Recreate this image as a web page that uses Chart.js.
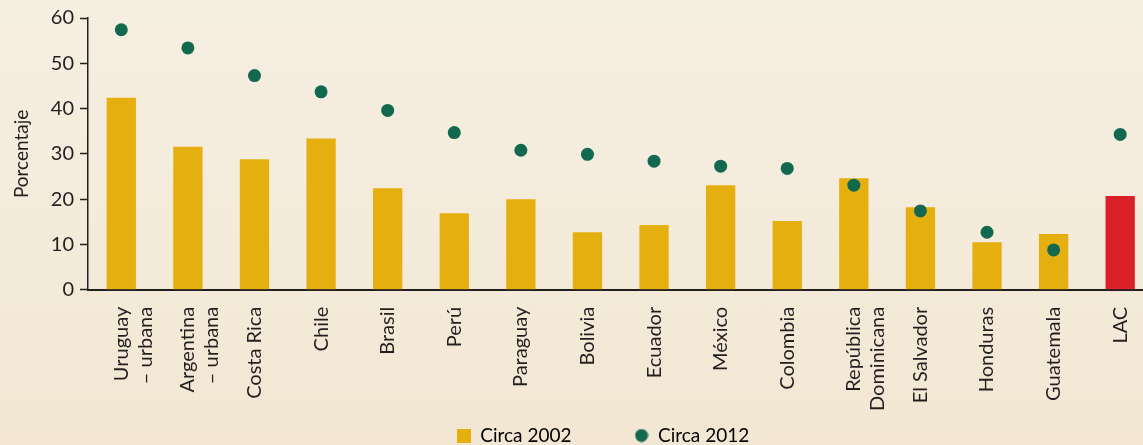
<!DOCTYPE html>
<html>
<head>
<meta charset="utf-8">
<script src="https://cdn.jsdelivr.net/npm/chart.js@4"></script>
<style>
  html, body { margin: 0; padding: 0; overflow: hidden; }
  body { background: linear-gradient(#f5efe2, #f3e7d3); width: 1143px; height: 445px; }
  #divchart { width: 1160px; height: 445px; }
</style>
</head>
<body>
<div id="divchart"><canvas id="chart"></canvas></div>
<script>
const categories = [
    ['Uruguay', '– urbana'], ['Argentina', '– urbana'], 'Costa Rica', 'Chile', 'Brasil', 'Perú',
    'Paraguay', 'Bolivia', 'Ecuador', 'México', 'Colombia', ['República', 'Dominicana'],
    'El Salvador', 'Honduras', 'Guatemala', 'LAC'
];
const circa2002 = [42.4, 31.6, 28.8, 33.4, 22.4, 16.9, 20.0, 12.7, 14.3, 23.1, 15.2, 24.6, 18.2, 10.5, 12.3, 20.7];
const circa2012 = [57.4, 53.4, 47.3, 43.7, 39.6, 34.7, 30.8, 29.9, 28.4, 27.3, 26.8, 23.1, 17.4, 12.7, 8.8, 34.3];
const yTicks = [0, 10, 20, 30, 40, 50, 60];

const gold = '#e6af10';
const red = '#da2128';
const green = '#12694f';
const ink = '#231f20';

Chart.defaults.font.family = 'Lato, "Open Sans", sans-serif';
Chart.defaults.color = ink;

// small icons for the legend
function makeIcon(shape, color) {
    let c = document.createElement('canvas');
    c.width = 14;
    c.height = 14;
    let g = c.getContext('2d');
    g.fillStyle = color;
    if (shape === 'square') {
        g.fillRect(0, 0, 14, 14);
    } else {
        g.beginPath();
        g.arc(7, 7, 6.5, 0, Math.PI * 2);
        g.fill();
    }
    return c;
}
const squareIcon = makeIcon('square', gold);
const dotIcon = makeIcon('dot', green);

// legend: tight row near the bottom, moved a little to the right
const legendTweak = {
    id: 'legendTweak',
    beforeInit(chart) {
        const fit = chart.legend.fit;
        chart.legend.fit = function () {
            fit.bind(chart.legend)();
            this.height -= 10;
        };
    },
    afterLayout(chart) {
        chart.legend.left += 40;
    }
};

let ctx = document.getElementById('chart');

new Chart(ctx, {
    type: 'bar',
    data: {
        labels: categories,
        datasets: [{
            label: 'Circa 2002',
            data: circa2002,
            backgroundColor: categories.map((c, i) => i === categories.length - 1 ? red : gold),
            categoryPercentage: 1,
            barPercentage: 0.44,
            order: 2
        }, {
            type: 'line',
            label: 'Circa 2012',
            data: circa2012,
            showLine: false,
            pointRadius: 6.5,
            pointHoverRadius: 6.5,
            pointBackgroundColor: green,
            pointBorderWidth: 0,
            backgroundColor: green,
            borderColor: green,
            order: 1
        }]
    },
    options: {
        responsive: true,
        maintainAspectRatio: false,
        animation: false,
        layout: { padding: { left: 6, top: 7, right: 0, bottom: 0 } },
        scales: {
            x: {
                grid: { display: false },
                border: { color: ink, width: 2 },
                ticks: {
                    minRotation: 90,
                    maxRotation: 90,
                    autoSkip: false,
                    padding: 9,
                    font: { size: 20 }
                }
            },
            y: {
                min: 0,
                max: 60,
                afterBuildTicks: (axis) => { axis.ticks = yTicks.map(v => ({ value: v })); },
                grid: { drawOnChartArea: false, drawTicks: true, tickLength: 8, color: ink, tickWidth: 1.5 },
                border: { color: ink, width: 1.5 },
                ticks: { font: { size: 20 }, padding: 6 },
                title: { display: true, text: 'Porcentaje', font: { size: 19 }, padding: { bottom: 12 } }
            }
        },
        plugins: {
            tooltip: { enabled: false },
            legend: {
                position: 'bottom',
                labels: {
                    usePointStyle: true,
                    padding: 6,
                    font: { size: 19 },
                    boxWidth: 14,
                    boxHeight: 14,
                    generateLabels: (chart) => [
                        { text: 'Circa 2002' + '\u2003\u2003\u2003\u2003', pointStyle: squareIcon, datasetIndex: 0, lineWidth: 0 },
                        { text: 'Circa 2012', pointStyle: dotIcon, datasetIndex: 1, lineWidth: 0 }
                    ]
                }
            }
        }
    },
    plugins: [legendTweak]
});
</script>
</body>
</html>
